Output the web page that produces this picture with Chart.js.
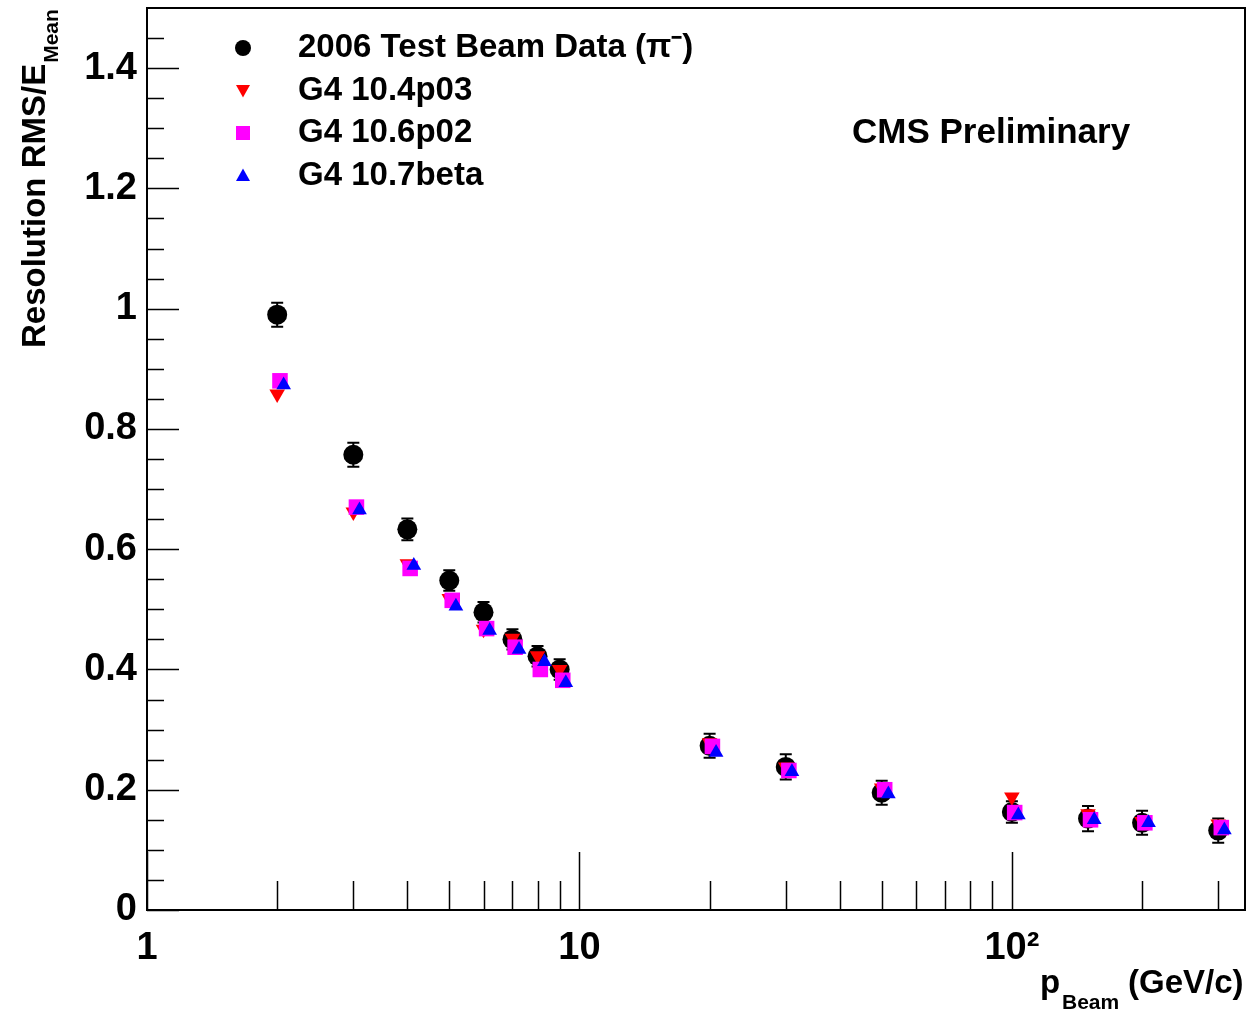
<!DOCTYPE html>
<html>
<head>
<meta charset="utf-8">
<script src="https://cdn.jsdelivr.net/npm/chart.js@4.4.1/dist/chart.umd.min.js"></script>
<style>
  html, body { margin: 0; padding: 0; background: #fff; }
  #wrap { width: 1248px; height: 1014px; }
</style>
</head>
<body>
<div id="wrap"><canvas id="myChart" width="1248" height="1014"></canvas></div>
<script>
// beam momenta (GeV/c) and values
const momentum = [2, 3, 4, 5, 6, 7, 8, 9, 20, 30, 50, 100, 150, 200, 300];
const pinkX = [2.03, 3.05, 4.06, 5.08, 6.1, 7.1, 8.12, 9.15, 20.3, 30.5, 50.8, 101.5, 152, 203, 305];
const blueX = [2.07, 3.1, 4.14, 5.18, 6.2, 7.25, 8.3, 9.3, 20.7, 31, 51.8, 103.5, 155, 207, 310];

const dataRes = [0.99, 0.757, 0.633, 0.548, 0.495, 0.45, 0.422, 0.4, 0.273, 0.238, 0.195, 0.163, 0.152, 0.145, 0.132];
const dataErr = [0.02, 0.02, 0.018, 0.017, 0.017, 0.017, 0.017, 0.017, 0.02, 0.021, 0.02, 0.018, 0.021, 0.02, 0.02];
const g4_104 = [0.858, 0.662, 0.576, 0.518, 0.467, 0.452, 0.423, 0.4, 0.278, 0.238, 0.203, 0.188, 0.16, 0.147, 0.143];
const g4_106 = [0.88, 0.67, 0.568, 0.515, 0.468, 0.437, 0.4, 0.382, 0.272, 0.232, 0.2, 0.162, 0.15, 0.145, 0.137];
const g4_107 = [0.873, 0.665, 0.573, 0.505, 0.465, 0.433, 0.413, 0.378, 0.262, 0.23, 0.193, 0.158, 0.15, 0.145, 0.133];

const xMajor = [1, 10, 100];
const xMinor = [2, 3, 4, 5, 6, 7, 8, 9, 20, 30, 40, 50, 60, 70, 80, 90, 200, 300];
const yMajor = [0, 0.2, 0.4, 0.6, 0.8, 1, 1.2, 1.4];

const legendItems = [
  { text: "2006 Test Beam Data (\u03c0\u207b)", color: "#000000", style: "circle" },
  { text: "G4 10.4p03", color: "#ff0000", style: "down" },
  { text: "G4 10.6p02", color: "#ff00ff", style: "rect" },
  { text: "G4 10.7beta", color: "#0000ff", style: "up" },
];

const FONT = "'Liberation Sans', Arial, Helvetica, sans-serif";

function pts(xs, ys) {
  return xs.map((x, i) => ({ x: x, y: ys[i] }));
}

function marker(ctx, style, x, y, s) {
  ctx.beginPath();
  if (style === "circle") {
    ctx.arc(x, y, s, 0, Math.PI * 2);
  } else if (style === "rect") {
    ctx.rect(x - s, y - s, 2 * s, 2 * s);
  } else if (style === "up") {
    ctx.moveTo(x, y - s);
    ctx.lineTo(x + s, y + s * 0.8);
    ctx.lineTo(x - s, y + s * 0.8);
  } else {
    ctx.moveTo(x, y + s);
    ctx.lineTo(x + s, y - s * 0.8);
    ctx.lineTo(x - s, y - s * 0.8);
  }
  ctx.closePath();
  ctx.fill();
}

function noPad(scale) {
  scale.paddingTop = 0;
  scale.paddingBottom = 0;
  scale.paddingLeft = 0;
  scale.paddingRight = 0;
}

const rootStyle = {
  id: "rootStyle",
  beforeDatasetsDraw(chart) {
    // error bars of the test beam data
    const ctx = chart.ctx;
    const xs = chart.scales.x, ys = chart.scales.y;
    ctx.save();
    ctx.strokeStyle = "#000";
    ctx.lineWidth = 2;
    momentum.forEach((m, i) => {
      const px = xs.getPixelForValue(m);
      const top = ys.getPixelForValue(dataRes[i] + dataErr[i]);
      const bot = ys.getPixelForValue(dataRes[i] - dataErr[i]);
      ctx.beginPath();
      ctx.moveTo(px, top); ctx.lineTo(px, bot);
      ctx.moveTo(px - 6, top); ctx.lineTo(px + 6, top);
      ctx.moveTo(px - 6, bot); ctx.lineTo(px + 6, bot);
      ctx.stroke();
    });
    ctx.restore();
  },
  afterDraw(chart) {
    const ctx = chart.ctx;
    const a = chart.chartArea;
    const xs = chart.scales.x, ys = chart.scales.y;
    ctx.save();
    ctx.strokeStyle = "#000";
    ctx.lineWidth = 1.5;
    ctx.beginPath();
    xMajor.forEach(v => {
      const px = Math.round(xs.getPixelForValue(v)) + 0.5;
      ctx.moveTo(px, a.bottom); ctx.lineTo(px, a.bottom - 58);
    });
    xMinor.forEach(v => {
      const px = Math.round(xs.getPixelForValue(v)) + 0.5;
      ctx.moveTo(px, a.bottom); ctx.lineTo(px, a.bottom - 29);
    });
    yMajor.forEach(v => {
      const py = Math.round(ys.getPixelForValue(v)) + 0.5;
      ctx.moveTo(a.left, py); ctx.lineTo(a.left + 32, py);
    });
    for (let v = 0.05; v < 1.5; v += 0.05) {
      const py = Math.round(ys.getPixelForValue(v)) + 0.5;
      ctx.moveTo(a.left, py); ctx.lineTo(a.left + 17, py);
    }
    ctx.stroke();

    // frame
    ctx.lineWidth = 2;
    ctx.strokeRect(a.left, a.top, a.right - a.left, a.bottom - a.top);

    // legend
    ctx.textBaseline = "middle";
    ctx.textAlign = "left";
    ctx.font = "bold 33px " + FONT;
    legendItems.forEach((it, i) => {
      const y = 48 + i * 42.5;
      ctx.fillStyle = it.color;
      marker(ctx, it.style, 243, y, it.style === "circle" ? 8 : 7);
      ctx.fillStyle = "#000";
      ctx.fillText(it.text, 298, y);
    });

    ctx.font = "bold 35px " + FONT;
    ctx.fillText("CMS Preliminary", 852, 133);

    // x axis title
    ctx.textBaseline = "alphabetic";
    ctx.font = "bold 33px " + FONT;
    ctx.fillText("p", 1040, 993);
    ctx.font = "bold 21px " + FONT;
    ctx.fillText("Beam", 1062, 1009);
    ctx.font = "bold 33px " + FONT;
    ctx.fillText("(GeV/c)", 1128, 993);

    // y axis title
    ctx.translate(45, 348);
    ctx.rotate(-Math.PI / 2);
    ctx.font = "bold 33px " + FONT;
    const main = "Resolution RMS/E";
    ctx.fillText(main, 0, 0);
    const w = ctx.measureText(main).width;
    ctx.font = "bold 21px " + FONT;
    ctx.fillText("Mean", w + 1, 13);
    ctx.restore();
  },
};

const myChart = new Chart(document.querySelector("#myChart"), {
  type: "scatter",
  data: {
    datasets: [
      {
        label: "2006 Test Beam Data",
        data: pts(momentum, dataRes),
        pointStyle: "circle",
        pointRadius: 10,
        backgroundColor: "#000000",
        borderWidth: 0,
        order: 3,
      },
      {
        label: "G4 10.4p03",
        data: pts(momentum, g4_104),
        pointStyle: "triangle",
        rotation: 180,
        pointRadius: 9,
        backgroundColor: "#ff0000",
        borderWidth: 0,
        order: 2,
      },
      {
        label: "G4 10.6p02",
        data: pts(pinkX, g4_106),
        pointStyle: "rect",
        pointRadius: 11,
        backgroundColor: "#ff00ff",
        borderWidth: 0,
        order: 1,
      },
      {
        label: "G4 10.7beta",
        data: pts(blueX, g4_107),
        pointStyle: "triangle",
        pointRadius: 8.5,
        backgroundColor: "#0000ff",
        borderWidth: 0,
        order: 0,
      },
    ],
  },
  options: {
    responsive: false,
    animation: false,
    layout: { autoPadding: false, padding: { top: 8, right: 3, left: 0, bottom: 0 } },
    plugins: { legend: { display: false }, tooltip: { enabled: false } },
    scales: {
      x: {
        type: "logarithmic",
        min: 1,
        max: 346,
        grid: { display: false, drawTicks: false },
        border: { display: false },
        afterBuildTicks: (scale) => {
          scale.ticks = xMajor.map(v => ({ value: v }));
        },
        afterFit: (scale) => { scale.height = 104; noPad(scale); },
        ticks: {
          autoSkip: false,
          maxRotation: 0,
          padding: 16,
          color: "#000",
          font: { family: FONT, size: 38, weight: "bold" },
          callback: (v) => (v === 100 ? "10\u00b2" : String(v)),
        },
      },
      y: {
        min: 0,
        max: 1.5,
        grid: { display: false, drawTicks: false },
        border: { display: false },
        afterBuildTicks: (scale) => {
          scale.ticks = yMajor.map(v => ({ value: v }));
        },
        afterFit: (scale) => { scale.width = 147; noPad(scale); },
        ticks: {
          padding: 10,
          color: "#000",
          font: { family: FONT, size: 38, weight: "bold" },
          callback: (v) => String(Math.round(v * 10) / 10),
        },
      },
    },
  },
  plugins: [rootStyle],
});
</script>
</body>
</html>
